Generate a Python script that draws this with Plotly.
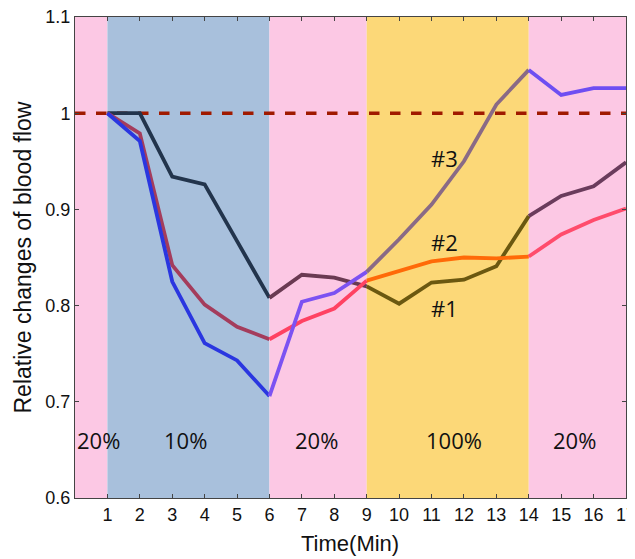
import plotly.graph_objects as go

time = list(range(1, 18))
s1 = [1.0, 1.0, 0.934, 0.926, 0.867, 0.808, 0.832, 0.829, 0.820, 0.802, 0.824, 0.827, 0.841, 0.893, 0.914, 0.924, 0.949]
s2 = [1.0, 0.979, 0.842, 0.801, 0.778, 0.765, 0.784, 0.797, 0.826, 0.836, 0.846, 0.850, 0.849, 0.851, 0.874, 0.889, 0.901]
s3 = [1.0, 0.971, 0.825, 0.761, 0.743, 0.706, 0.804, 0.813, 0.835, 0.869, 0.905, 0.950, 1.009, 1.045, 1.019, 1.026, 1.026]

bands = [(0, 1, "20%", "#fcc8e4"), (1, 6, "10%", "#a8c0dc"), (6, 9, "20%", "#fcc8e4"),
         (9, 14, "100%", "#fcd878"), (14, 17, "20%", "#fcc8e4")]
band_label_x = [0.72, 3.4, 7.45, 11.7, 15.4]

seg_bounds = [(1, 6), (6, 9), (9, 14), (14, 17)]
colors1 = ["#22344c", "#6a3a52", "#6b5810", "#6a3c5c"]
colors2 = ["#a43c5c", "#ff4262", "#ff6a08", "#ff4c6c"]
colors3 = ["#2a36e0", "#7c52f2", "#8a6a86", "#6e4ef2"]

fig = go.Figure()

for (x0, x1, lab, col) in bands:
    fig.add_shape(type="rect", xref="x", yref="y", x0=x0, x1=x1, y0=0.6, y1=1.1,
                  fillcolor=col, line=dict(width=0), layer="below")
for (x0, x1, lab, col), lx in zip(bands, band_label_x):
    fig.add_annotation(x=lx, y=0.66, text=lab, showarrow=False,
                       font=dict(family="Open Sans", size=22, color="#111"))

fig.add_trace(go.Scatter(x=[0, 17], y=[1, 1], mode="lines",
                         line=dict(color="#a01a00", width=3.5, dash="dash"), showlegend=False))

for series, cols in [(s1, colors1), (s2, colors2), (s3, colors3)]:
    for (a, b), c in zip(seg_bounds, cols):
        xs = time[a - 1:b]
        ys = series[a - 1:b]
        fig.add_trace(go.Scatter(x=xs, y=ys, mode="lines",
                                 line=dict(color=c, width=3.8), showlegend=False))

for txt, x, y in [("#3", 11.4, 0.953), ("#2", 11.4, 0.866), ("#1", 11.4, 0.797)]:
    fig.add_annotation(x=x, y=y, text=txt, showarrow=False,
                       font=dict(family="Open Sans", size=22, color="#111"))

# axis titles
fig.add_annotation(xref="paper", yref="paper", x=(22 - 75) / 551, y=0.5,
                   xanchor="center", yanchor="middle",
                   text="Relative changes of blood flow", textangle=-90, showarrow=False,
                   font=dict(family="Liberation Sans, Arial", size=23, color="#111"))
fig.add_annotation(xref="paper", yref="paper", x=(350 - 75) / 551, y=-(542 - 497) / 481,
                   xanchor="center", yanchor="middle",
                   text="Time(Min)", showarrow=False,
                   font=dict(family="Liberation Sans, Arial", size=22, color="#111"))

# page body has an 8px margin, so the figure is offset by 8px
fig.update_layout(
    width=627, height=551,
    margin=dict(l=67, r=9, t=9, b=61),
    paper_bgcolor="white", plot_bgcolor="white",
    font=dict(family="Liberation Sans, Arial", size=18, color="#111"),
    xaxis=dict(range=[0, 17], tickvals=time, ticks="inside", ticklen=4,
               showgrid=False, zeroline=False, showline=True, linecolor="#444",
               mirror="ticks", linewidth=1, automargin=False,
               ticklabeloverflow="allow"),
    yaxis=dict(range=[0.6, 1.1], tickvals=[0.6, 0.7, 0.8, 0.9, 1.0, 1.1],
               ticktext=["0.6", "0.7", "0.8", "0.9", "1", "1.1"],
               ticks="inside", ticklen=4, showgrid=False, zeroline=False,
               showline=True, linecolor="#444", mirror="ticks", linewidth=1,
               automargin=False, ticklabeloverflow="allow"),
)

fig.write_html("out.html")
